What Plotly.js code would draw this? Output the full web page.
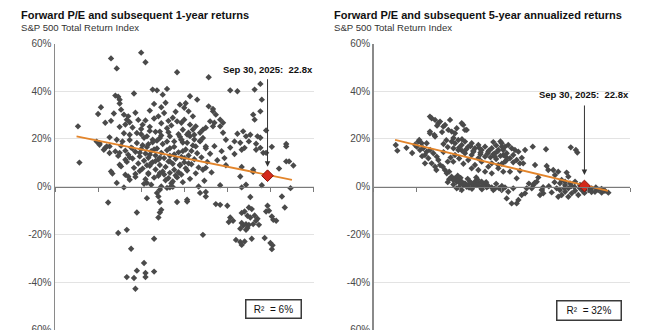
<!DOCTYPE html>
<html><head><meta charset="utf-8">
<script src="https://cdn.plot.ly/plotly-3.0.1.min.js"></script>
<style>html,body{margin:0;padding:0;background:#fff}#chart{width:660px;height:330px}</style>
</head><body><div id="chart"></div>
<script>
// ---------- DATA ----------
// Left panel: forward P/E (x) vs subsequent 1-year return (%)
const leftPE = [
 11.9,14.0,12.3,14.3,16.5,18.7,13.5,14.8,15.1,15.8,15.5,12.2,
 12.4,12.5,12.5,11.2,14.6,14.9,15.4,15.7,16.7,17.1,17.4,17.9,
 20.2,20.7,21.9,22.3,22.4,18.7,19.0,19.0,19.2,11.0,12.1,12.6,
 12.8,11.5,11.9,9.6,12.5,19.5,19.7,19.5,18.8,19.0,19.1,18.3,
 18.1,18.5,21.8,22.3,21.9,22.7,21.1,21.3,21.6,22.1,22.3,20.5,
 20.9,19.9,19.7,24.1,23.1,21.5,20.7,22.0,13.0,13.2,13.1,13.8,
 14.1,14.6,15.2,15.4,15.8,16.2,16.5,16.8,11.8,12.3,11.1,13.2,
 13.7,14.4,14.8,15.3,16.0,16.3,16.8,
 12.6,12.9,13.1,13.3,13.4,13.6,13.7,13.8,13.9,14.0,14.1,14.1,
 14.2,14.3,14.4,14.5,14.5,14.6,14.7,14.8,14.8,14.9,15.0,15.0,
 15.1,15.2,15.2,15.3,15.4,15.5,15.5,15.6,15.7,15.7,15.8,15.9,
 16.0,16.0,16.1,16.2,16.3,16.3,16.4,16.5,16.6,16.7,16.8,16.8,
 16.9,17.0,17.1,17.2,17.3,17.4,17.5,17.6,17.7,17.8,17.9,18.0,
 18.1,18.2,18.4,18.5,18.6,18.8,18.9,19.1,19.3,19.6,19.9,20.2,
 13.2,12.8,14.6,15.9,17.2,17.6,18.3,16.9,14.2,12.4,12.2,11.5,
 10.9,11.8,11.1,11.8,12.5,14.6,15.3,16.0,16.7,11.4,11.6,
 18.5,18.3,18.5,19.8,20.5,21.0,21.2,22.0,22.3,22.5,22.7,24.1,
 21.0,21.8,23.6,24.1,24.3,24.6,19.5,18.0,21.0,22.4,24.4,18.5,
 18.5,21.6,23.8,17.2,19.2,19.5,20.0,21.5,21.7,22.8,22.9,24.0,
 21.0,21.2,21.4,21.6,20.2,20.4,20.1,21.9,22.1,22.0,22.7,23.1,
 23.2,23.4,21.0,21.1,21.3,21.5,20.9,21.3,21.4,20.6,20.9,21.0,
 21.2,21.7,22.6,23.0,23.15,23.1,18.3,21.8,22.2,
 9.7,12.0,12.5,12.6,12.9,13.1,13.2,13.6,12.3,12.8,14.5,14.4,
 14.7,15.3,15.4,16.0,14.4,15.1,15.2,15.3,16.5,11.7,13.7,15.3,
 15.2,12.4,13.0,14.9,13.3,14.2,13.7,14.3,14.3,14.9,13.0,13.5,
 13.6,11.9,15.3,15.8,16.2,17.2,15.4,18.1,20.9,21.3,21.8,
 17.0,17.3,17.6,17.0,17.4,17.8,16.9,17.3,17.7,16.8,17.2,17.8,18.1,
 15.0,15.6,16.1,16.6,14.3,15.9,16.4,14.0,13.4,12.9,13.6,14.9,
 13.0,13.5,13.9,14.3,14.7,15.1,15.6,16.0,16.4,16.9,17.3,17.7,
 12.7,13.2,13.6,14.0,14.5,15.0,15.4,15.9,16.3,16.7,17.1,17.5,
 13.4,13.9,14.4,14.9,15.3,15.8,16.2,16.6,17.0,17.4,12.9,14.2
];
const left1yr = [
 53.8,56.2,49.6,52.2,48.0,45.9,39.1,40.7,40.4,41.0,38.6,38.2,
 37.7,36.5,34.9,33.3,31.9,34.7,33.3,35.2,34.4,35.0,37.9,36.5,
 40.4,40.0,40.7,43.1,36.5,33.7,32.6,31.6,30.2,30.5,30.7,32.3,
 30.2,26.8,27.6,25.3,25.1,28.1,26.8,25.3,27.4,25.3,26.8,23.9,
 22.6,24.7,30.2,31.6,28.1,23.6,23.2,21.1,21.8,21.1,20.5,19.0,
 18.4,19.7,22.6,17.9,16.7,19.0,22.2,18.0,28.1,27.0,29.5,28.0,
 26.0,25.1,29.5,26.6,24.5,28.9,27.4,26.8,20.7,19.7,18.2,21.8,
 22.5,21.1,19.7,20.4,21.1,19.0,19.7,
 17.2,15.1,13.4,16.4,11.8,14.6,18.3,9.7,12.7,15.8,7.6,17.4,
 10.9,13.9,16.6,5.3,12.1,8.8,14.9,18.6,10.3,3.8,13.1,7.2,
 16.0,11.4,4.6,9.1,14.2,6.4,17.9,12.0,2.7,8.3,15.3,10.6,
 5.8,13.0,1.4,9.6,16.7,7.1,11.7,3.9,14.4,8.9,5.1,12.5,
 1.9,10.2,15.6,6.8,13.1,3.3,9.4,17.3,11.5,5.6,14.0,8.1,
 19.2,12.3,2.5,16.1,10.4,13.8,6.0,17.0,11.1,14.9,9.0,16.4,
 19.6,22.4,23.4,22.8,21.9,24.0,20.4,18.5,20.5,12.9,14.8,16.2,
 18.9,14.1,17.6,16.9,14.2,13.4,12.1,10.6,9.2,15.5,16.9,
 16.9,7.1,7.9,12.0,13.7,15.5,16.3,15.5,16.3,14.2,14.2,16.9,
 8.3,6.2,7.6,10.6,10.6,8.9,0.6,0.1,-0.3,0.6,-0.6,-2.2,
 -4.1,-4.3,-4.1,-6.2,-7.3,-7.6,-8.0,-8.7,-9.4,-8.0,-10.1,-8.7,
 -11.0,-10.4,-12.2,-12.9,-12.9,-14.3,-14.8,-12.1,-13.4,-14.3,-10.4,-12.5,
 -13.9,-14.3,-15.2,-16.3,-15.7,-16.0,-17.6,-18.1,-17.3,-22.3,-23.2,-24.4,
 -23.0,-21.8,-21.5,-23.6,-24.6,-26.2,-20.2,-15.7,-16.0,
 10.1,5.5,9.2,8.5,5.0,4.3,2.9,5.3,1.6,-0.3,5.7,1.6,
 0.8,5.7,0.1,-0.3,-4.8,-2.6,-4.1,-6.4,-6.4,-6.6,-10.8,-10.8,
 -12.9,-19.4,-18.1,-21.8,-26.0,-32.0,-35.2,-36.2,-37.9,-35.6,-37.9,-38.3,
 -42.8,6.4,-1.3,-0.5,-0.1,-5.5,-9.7,-2.6,4.3,0.8,7.1,
 33.1,31.6,29.5,28.1,26.0,25.3,23.9,22.6,21.8,19.7,18.4,16.9,19.0,
 23.0,30.9,25.7,22.0,27.8,27.6,31.4,24.2,24.8,26.1,31.0,28.6,
 10.4,7.9,14.2,3.1,9.9,19.3,5.1,16.1,4.7,14.9,9.8,19.8,
 19.0,12.3,4.1,22.0,17.8,10.8,21.5,3.6,13.5,20.9,7.7,15.0,
 16.0,6.6,9.0,15.6,23.1,18.9,2.2,6.1,12.0,21.2,11.3,1.2
];

// Right panel: forward P/E (x) vs subsequent 5-year annualized return (%)
const rightPE = [
 9.55,9.66,12.07,11.95,12.26,14.29,14.41,11.95,12.31,12.54,12.66,12.89,
 13.01,13.24,13.36,13.48,13.71,13.83,14.18,14.53,11.95,12.31,12.45,12.8,
 11.13,11.37,11.02,11.25,11.48,11.72,11.96,11.6,11.84,12.19,12.43,12.54,
 12.07,12.31,12.66,11.6,12.4,13.0,13.13,11.2,11.72,12.85,13.2,13.3,
 10.3,10.7,10.9,11.4,
 13.47,13.59,13.71,13.83,13.94,14.06,14.18,14.29,14.41,14.53,14.64,14.76,
 14.88,15.0,15.11,15.23,15.35,15.47,15.58,15.7,15.82,15.94,16.05,16.29,
 16.4,13.83,14.18,13.3,13.9,14.6,15.2,14.0,14.9,15.6,16.6,16.8,
 13.47,13.71,13.94,14.18,14.41,14.64,14.88,15.11,15.35,15.58,15.82,16.05,
 16.29,16.52,16.75,16.99,17.1,15.82,15.35,14.88,14.41,13.94,13.71,14.64,
 15.58,16.29,16.75,16.05,15.11,13.59,14.88,15.35,15.82,16.29,16.75,17.1,
 16.4,16.6,16.9,16.2,16.6,16.9,17.3,17.0,16.4,13.2,12.9,13.4,14.0,14.3,12.9,13.6,14.2,15.0,15.5,13.1,
 16.99,17.22,17.45,17.1,17.34,17.69,17.92,17.8,18.16,17.57,18.04,17.22,
 18.27,18.5,18.63,19.17,20.1,21.84,22.2,22.3,19.33,20.15,20.26,20.61,
 20.96,20.73,21.55,21.67,18.27,18.04,17.57,19.56,19.45,21.2,21.44,21.79,
 22.14,16.99,17.22,17.45,17.34,17.8,18.16,18.04,18.74,18.63,19.1,19.91,
 19.8,19.21,20.85,21.08,21.2,21.44,21.67,21.9,22.14,22.37,22.49,23.07,
 23.31,23.54,23.77,24.01,24.24,24.48,20.96,21.67,21.08,21.44,21.9,22.49,
 22.96,17.69,18.39,19.68,18.9,20.3,20.5,23.6,22.8,24.0,
 14.0,14.5,15.0,15.5,16.0,16.5,13.6,14.2,14.8,15.4,16.1,16.7,17.3,17.8,18.4,
 13.2,13.6,14.1,14.7,15.3,15.9,16.5,17.0,19.3,19.9,20.7,21.4,22.1,22.7,23.3
];
const right5yr = [
 17.5,15.1,28.7,23.1,21.7,25.9,23.8,29.4,28.0,26.6,27.3,25.2,
 25.9,23.8,28.0,23.1,22.4,24.5,26.6,23.8,22.4,21.0,25.6,22.9,
 18.9,18.2,16.8,15.4,16.1,14.7,15.4,13.3,11.9,14.0,12.6,11.2,
 9.8,8.4,9.1,9.8,7.0,7.0,5.6,19.6,18.2,8.4,10.5,6.3,
 16.3,14.1,17.6,12.8,
 4.2,2.8,3.5,2.1,2.8,1.4,2.1,0.7,1.4,0.0,0.7,2.1,
 1.4,0.3,2.1,0.7,1.4,0.0,2.1,0.7,1.4,-0.3,0.3,-0.3,
 -1.4,-0.7,-1.4,3.1,4.6,3.3,3.9,-0.2,-0.9,-1.1,1.2,-0.6,
 18.9,18.2,19.6,17.5,18.9,16.8,18.2,16.1,17.5,15.4,16.8,14.7,
 16.1,14.0,15.4,16.8,13.3,12.6,11.9,13.3,14.0,15.4,13.3,11.2,
 10.5,9.8,9.1,8.4,9.1,10.5,7.7,7.0,6.3,5.6,7.7,6.3,
 18.7,17.3,19.0,12.3,11.6,12.9,11.0,9.6,13.6,16.6,14.5,12.2,11.8,9.6,17.9,16.1,15.1,14.6,13.6,19.5,
 18.2,16.8,17.5,15.4,14.0,16.1,15.4,13.3,14.7,11.9,11.2,10.5,
 9.8,9.8,15.4,16.8,15.7,16.5,15.4,14.3,9.1,8.7,7.0,7.0,
 6.3,4.9,5.9,4.2,6.7,3.5,6.3,3.9,2.1,2.8,2.1,1.4,
 2.1,-1.4,-0.3,-2.1,-4.9,-0.7,-5.6,-7.0,-0.7,-2.8,-0.7,-2.8,
 -1.4,0.7,-0.7,-1.4,-3.5,-2.1,-0.7,-2.8,-1.7,-3.5,-0.7,-1.4,
 -0.7,-2.1,-1.4,-2.5,-1.7,-2.5,-4.2,-4.2,1.4,0.7,0.3,0.7,
 0.0,-7.0,-3.5,-3.5,1.3,0.2,-2.4,-0.3,-2.6,-0.9,
 16.4,15.7,15.1,14.3,13.9,12.7,20.4,19.9,17.0,16.3,15.2,14.8,12.4,10.2,12.1,
 1.9,0.9,3.7,-0.4,2.9,1.9,-0.9,0.3,1.6,-0.2,1.9,-0.6,-0.1,-1.9,-2.2
];

// Current valuation (Sep 30, 2025)
const currentPE = [22.8];
const current1yr = [4.6];
const current5yr = [0.3];

// Regression line end points
const fit1PE = [9.5, 24.5];
const fit1Ret = [21.1, 2.9];
const fit2PE = [9.5, 24.45];
const fit2Ret = [19.6, -1.8];

// Axis ticks and labels
const yTickVals = [-60, -40, -20, 0, 20, 40, 60];
const yTickText = ['-60%', '-40%', '-20%', '0%', '20%', '40%', '60%'];
const xTickVals = [8, 11, 14, 17, 20, 23, 26];

const titles = ['Forward P/E and subsequent 1-year returns', 'Forward P/E and subsequent 5-year annualized returns'];
const subtitle = 'S&P 500 Total Return Index';
const dateLabel = 'Sep 30, 2025:\u00a0 22.8x';
const r2Labels = ['R\u00b2 \u00a0= 6%', 'R\u00b2 \u00a0= 32%'];

// ---------- CHART ----------
const FONT = 'Liberation Sans, Arial, sans-serif';
const GRAY = '#4a4a4a';
const ORANGE = '#e3852b';
const yDom = [0.0006, 0.8679];
const zeroPos = (yDom[0] + yDom[1]) / 2;

function scatter(x, y, xa, ya) {
  return {x: x, y: y, xaxis: xa, yaxis: ya, type: 'scatter', mode: 'markers',
    marker: {symbol: 'diamond', size: 4.9, color: GRAY}, hoverinfo: 'skip', showlegend: false};
}
function fit(x, y, xa, ya) {
  return {x: x, y: y, xaxis: xa, yaxis: ya, type: 'scatter', mode: 'lines',
    line: {color: ORANGE, width: 1.8}, hoverinfo: 'skip', showlegend: false};
}
function current(x, y, xa, ya) {
  return {x: x, y: y, xaxis: xa, yaxis: ya, type: 'scatter', mode: 'markers',
    marker: {symbol: 'diamond', size: 9, color: '#d42a1c', line: {color: '#8a1409', width: 1}},
    hoverinfo: 'skip', showlegend: false};
}
const data = [
  scatter(leftPE, left1yr, 'x', 'y'),
  fit(fit1PE, fit1Ret, 'x', 'y'),
  current(currentPE, current1yr, 'x', 'y'),
  scatter(rightPE, right5yr, 'x2', 'y2'),
  fit(fit2PE, fit2Ret, 'x2', 'y2'),
  current(currentPE, current5yr, 'x2', 'y2')
];

function xaxisCfg(dom) {
  return {domain: dom, range: [8, 26], anchor: 'free', position: zeroPos,
    showline: true, linecolor: '#7a7a7a', linewidth: 1,
    ticks: 'outside', ticklen: 4, tickwidth: 1, tickcolor: '#7a7a7a',
    tickmode: 'array', tickvals: xTickVals, showticklabels: false,
    showgrid: false, zeroline: false, fixedrange: true};
}
function yaxisCfg(anchor) {
  return {domain: yDom, range: [-60, 60], anchor: anchor,
    tickmode: 'array', tickvals: yTickVals, ticktext: yTickText, ticklabeloverflow: 'allow',
    showgrid: true, gridcolor: '#e3e3e3', gridwidth: 1, zeroline: false,
    showline: true, linecolor: '#8a8a8a', linewidth: 1.5, ticks: '',
    tickfont: {family: FONT, size: 10, color: '#4a4a4a'}, fixedrange: true};
}

const ann = [];
[[19, 0], [332, 1]].forEach(function (p) {
  ann.push({xref: 'paper', yref: 'paper', x: p[0] / 660, y: 1 - 15 / 330, xanchor: 'left', yanchor: 'middle',
    text: '<b>' + titles[p[1]] + '</b>', showarrow: false, font: {family: FONT, size: 11, color: '#111'}});
  ann.push({xref: 'paper', yref: 'paper', x: p[0] / 660, y: 1 - 27.7 / 330, xanchor: 'left', yanchor: 'middle',
    text: subtitle, showarrow: false, font: {family: FONT, size: 9.6, color: '#333'}});
});
// date labels and arrows
ann.push({xref: 'x', yref: 'paper', x: currentPE[0], y: 1 - 69 / 330, xanchor: 'center', yanchor: 'middle',
  text: '<b>' + dateLabel + '</b>', showarrow: false, font: {family: FONT, size: 9.5, color: '#111'}});
ann.push({xref: 'x2', yref: 'paper', x: currentPE[0], y: 1 - 94 / 330, xanchor: 'center', yanchor: 'middle',
  text: '<b>' + dateLabel + '</b>', showarrow: false, font: {family: FONT, size: 9.5, color: '#111'}});
ann.push({xref: 'x', yref: 'y', x: currentPE[0], y: current1yr[0], text: '', showarrow: true,
  ax: 0, ay: -98, arrowhead: 2, arrowsize: 1.1, arrowwidth: 1, arrowcolor: '#333', standoff: 9});
ann.push({xref: 'x2', yref: 'y2', x: currentPE[0], y: current5yr[0], text: '', showarrow: true,
  ax: 0, ay: -82, arrowhead: 2, arrowsize: 1.1, arrowwidth: 1, arrowcolor: '#333', standoff: 11});
// R² boxes
ann.push({xref: 'paper', yref: 'paper', x: 273.5 / 660, y: 1 - 309 / 330, xanchor: 'center', yanchor: 'middle',
  text: r2Labels[0], showarrow: false, width: 54, height: 17, borderpad: 0, bordercolor: '#3a3a3a', borderwidth: 1.5,
  bgcolor: '#fff', font: {family: FONT, size: 10, color: '#111'}});
ann.push({xref: 'paper', yref: 'paper', x: 589 / 660, y: 1 - 310.5 / 330, xanchor: 'center', yanchor: 'middle',
  text: r2Labels[1], showarrow: false, width: 63, height: 18, borderpad: 0, bordercolor: '#3a3a3a', borderwidth: 1.5,
  bgcolor: '#fff', font: {family: FONT, size: 10, color: '#111'}});

const layout = {
  width: 660, height: 330, margin: {l: 0, r: 0, t: 0, b: 0},
  paper_bgcolor: '#fff', plot_bgcolor: '#fff',
  font: {family: FONT},
  xaxis: xaxisCfg([55 / 660, 313.5 / 660]),
  yaxis: yaxisCfg('x'),
  xaxis2: xaxisCfg([373.7 / 660, 630 / 660]),
  yaxis2: yaxisCfg('x2'),
  annotations: ann,
  showlegend: false
};
Plotly.newPlot('chart', data, layout, {staticPlot: true, displayModeBar: false});
</script>
</body></html>
